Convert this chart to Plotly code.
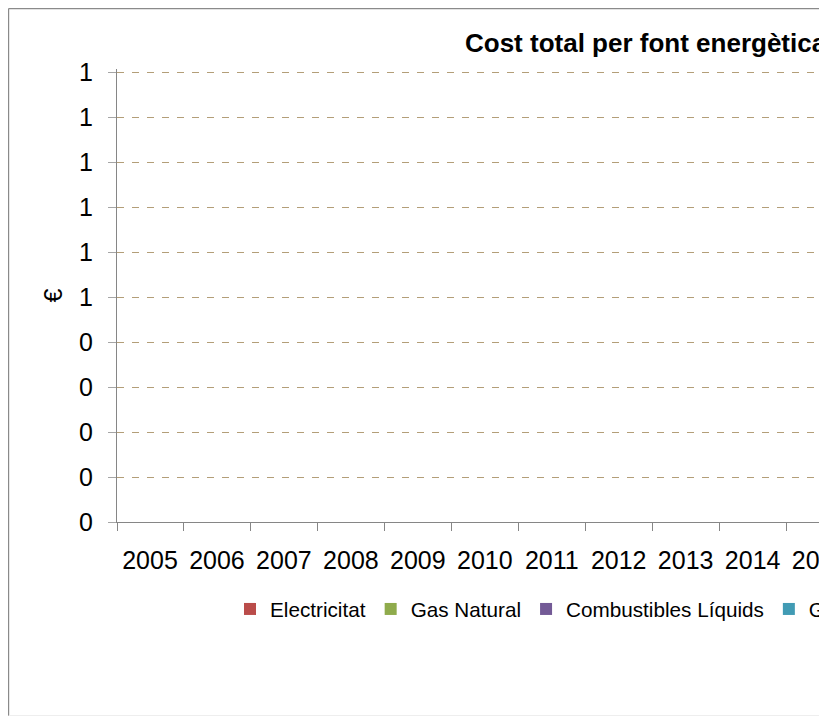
import plotly.graph_objects as go

# ---------------- data ----------------
years = [2005, 2006, 2007, 2008, 2009, 2010, 2011, 2012, 2013, 2014, 2015]
year_labels = ["2005", "2006", "2007", "2008", "2009", "2010",
               "2011", "2012", "2013", "2014", "2015"]

series_names = ["Electricitat", "Gas Natural", "Combustibles Líquids", "GLP"]
series_colors = ["#BA4C4A", "#8FAB4C", "#735A96", "#419BB4"]

electricitat = [0, 0, 0, 0, 0, 0, 0, 0, 0, 0, 0]
gas_natural = [0, 0, 0, 0, 0, 0, 0, 0, 0, 0, 0]
combustibles_liquids = [0, 0, 0, 0, 0, 0, 0, 0, 0, 0, 0]
glp = [0, 0, 0, 0, 0, 0, 0, 0, 0, 0, 0]
series_values = [electricitat, gas_natural, combustibles_liquids, glp]

y_tick_values = [0.0, 0.1, 0.2, 0.3, 0.4, 0.5, 0.6, 0.7, 0.8, 0.9, 1.0]
y_tick_labels = ["0", "0", "0", "0", "0", "1", "1", "1", "1", "1", "1"]

title_text = "Cost total per font energètica"
y_title = "€"

# ---------------- layout geometry ----------------
OFF = 8                      # page offset of the figure (body margin)
W, H = 819 - OFF, 717 - OFF  # figure ends at the clipped edge of the picture
L, R = 117 - OFF, 0
BOTTOM = 522 - OFF           # pixel row of value 0
T = 61
B = H - BOTTOM
PW, PH = W - L - R, H - T - B
CAT = 66.96                  # pixel width of one category
UNIT = 450                   # pixels from value 0 to value 1

def px_x(p):
    return (p - OFF - L) / PW

def px_y(p):
    return (BOTTOM - (p - OFF)) / PH

FONT = "Arial, 'Liberation Sans', sans-serif"
GRAY = "#868686"

fig = go.Figure()
for name, color, vals in zip(series_names, series_colors, series_values):
    fig.add_trace(go.Bar(x=years, y=vals, name=name,
                         marker=dict(color=color, line=dict(width=0))))

fig.update_layout(
    width=W, height=H,
    margin=dict(l=L, r=R, t=T, b=B, autoexpand=False),
    paper_bgcolor="white", plot_bgcolor="white",
    font=dict(family=FONT, color="black"),
    barmode="group",
    title=dict(text=title_text, x=(465 - OFF) / W, xanchor="left", xref="container",
               y=1 - (43 - OFF) / H, yanchor="middle", yref="container",
               font=dict(size=26, weight="bold", color="black")),
    showlegend=True,
    legend=dict(orientation="h", x=px_x(230), xanchor="left",
                y=px_y(609), yanchor="middle",
                font=dict(size=20.7, color="black"),
                bgcolor="rgba(0,0,0,0)", borderwidth=0),
    xaxis=dict(
        type="linear",
        range=[years[0] - 0.5, years[0] - 0.5 + PW / CAT],
        tickmode="array",
        tickvals=[y - 0.5 for y in years],
        ticktext=year_labels,
        ticklabelshift=round(CAT / 2),
        ticklabeloverflow="allow",
        ticklabelstandoff=8,
        ticks="outside", ticklen=8, tickcolor=GRAY, tickwidth=1,
        showline=True, linecolor=GRAY, linewidth=1,
        showgrid=False, zeroline=False,
        tickfont=dict(size=25, color="black"),
        fixedrange=True,
    ),
    yaxis=dict(
        range=[0, PH / UNIT],
        tickmode="array",
        tickvals=y_tick_values,
        ticktext=y_tick_labels,
        ticks="outside", ticklen=8, tickcolor="#A6A6A6", tickwidth=1,
        ticklabelstandoff=10,
        showline=True, linecolor=GRAY, linewidth=1,
        showgrid=True, gridcolor="#B39E78", gridwidth=1, griddash="7px,8px",
        zeroline=False,
        tickfont=dict(size=25, color="black"),
        title=dict(text=y_title, font=dict(size=25, color="black"), standoff=9),
        fixedrange=True,
    ),
)

# outer frame of the chart (left, top, bottom edges)
fig.add_shape(type="line", xref="paper", yref="paper",
              x0=px_x(OFF + 0.6), x1=px_x(OFF + 0.6), y0=px_y(OFF + 0.6), y1=px_y(716),
              line=dict(color="#8A8A8A", width=1.2))
fig.add_shape(type="line", xref="paper", yref="paper",
              x0=px_x(OFF + 0.6), x1=px_x(830), y0=px_y(OFF + 0.6), y1=px_y(OFF + 0.6),
              line=dict(color="#8A8A8A", width=1.2))
fig.add_shape(type="line", xref="paper", yref="paper",
              x0=px_x(OFF + 0.6), x1=px_x(830), y0=px_y(715.5), y1=px_y(715.5),
              line=dict(color="#EEEEEE", width=1))

fig.write_html("out.html", config=dict(displayModeBar=False))
